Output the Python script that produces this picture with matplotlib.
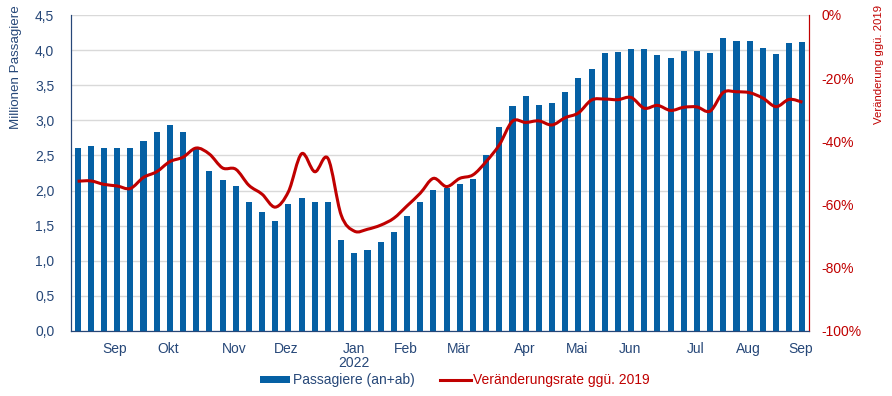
"""
Weekly passengers (arrivals + departures) with change vs. 2019.
"""

import matplotlib.pyplot as plt
import numpy as np
from matplotlib.path import Path
from matplotlib.patches import PathPatch, Patch
from matplotlib.lines import Line2D
from matplotlib.ticker import FuncFormatter, MultipleLocator

plt.rcParams['font.family'] = ['Liberation Sans', 'DejaVu Sans']

# Weekly passengers in millions (Aug 2021 - Sep 2022)
passengers = [2.60, 2.64, 2.60, 2.61, 2.61, 2.71, 2.83, 2.93, 2.84, 2.59,
              2.28, 2.15, 2.06, 1.84, 1.70, 1.57, 1.81, 1.90, 1.84, 1.84,
              1.30, 1.11, 1.16, 1.27, 1.41, 1.64, 1.84, 2.01, 2.03, 2.09,
              2.17, 2.50, 2.91, 3.20, 3.35, 3.22, 3.25, 3.41, 3.60, 3.73,
              3.96, 3.97, 4.01, 4.01, 3.93, 3.89, 3.99, 3.99, 3.96, 4.17,
              4.13, 4.13, 4.03, 3.94, 4.10, 4.11]

# Change vs. 2019 in percent
change_2019 = [-52.6, -52.5, -53.6, -54.1, -54.9, -51.4, -49.6, -46.4, -45.0, -42.1,
               -44.0, -48.4, -48.8, -53.9, -56.7, -60.8, -55.9, -43.9, -49.6, -45.4,
               -63.3, -68.4, -67.8, -66.5, -64.3, -60.4, -56.4, -51.7, -54.3, -51.7,
               -50.6, -46.4, -41.1, -33.6, -34.0, -33.5, -34.8, -32.5, -31.0, -26.9,
               -26.6, -26.8, -26.1, -29.5, -28.6, -30.2, -29.2, -29.1, -30.4, -24.5,
               -24.3, -24.6, -26.3, -29.0, -26.7, -27.6]

month_labels = ['Sep', 'Okt', 'Nov', 'Dez', 'Jan\n2022', 'Feb', 'Mär',
                'Apr', 'Mai', 'Jun', 'Jul', 'Aug', 'Sep']
month_pos = [2.8, 6.85, 11.85, 15.85, 20.95, 24.9, 28.9,
             33.9, 37.9, 41.9, 46.9, 50.9, 54.9]

BLUE = '#0560a4'
DARKBLUE = '#264778'
RED = '#c00000'


def smooth_path(x, y):
    """Catmull-Rom style bezier path, like a smoothed spreadsheet line."""
    pts = np.column_stack([x, y])
    n = len(pts)
    verts = [pts[0]]
    codes = [Path.MOVETO]
    for i in range(n - 1):
        p0 = pts[max(i - 1, 0)]
        p1 = pts[i]
        p2 = pts[i + 1]
        p3 = pts[min(i + 2, n - 1)]
        c1 = p1 + (p2 - p0) / 6.0
        c2 = p2 - (p3 - p1) / 6.0
        verts += [c1, c2, p2]
        codes += [Path.CURVE4] * 3
    return Path(verts, codes)


fig = plt.figure(figsize=(8.92, 3.96), dpi=100)
ax = fig.add_axes([71 / 892, 65 / 396, 738 / 892, 316 / 396])
ax2 = ax.twinx()

x = np.arange(len(passengers))
ax.bar(x, passengers, width=0.46, color=BLUE, zorder=2)
ax.set_xlim(-0.5, len(passengers) - 0.5)
ax.set_ylim(0, 4.5)
ax.yaxis.set_major_locator(MultipleLocator(0.5))
ax.yaxis.set_major_formatter(FuncFormatter(lambda v, p: f"{v:.1f}".replace('.', ',')))
ax.grid(True, axis='y', color='#d9d9d9', linewidth=1, zorder=0)
ax.set_axisbelow(True)
ax.set_xticks(month_pos)
ax.set_xticklabels(month_labels, fontsize=10, color=DARKBLUE, linespacing=1.0)
ax.tick_params(axis='x', length=0, pad=8)
ax.tick_params(axis='y', length=0, pad=12, labelsize=10, labelcolor=DARKBLUE)
ax.set_ylabel('Millionen Passagiere', fontsize=9.6, color=DARKBLUE, labelpad=9, loc='top')
ax.yaxis.label.set_y(1.032)

ax2.add_patch(PathPatch(smooth_path(x, change_2019), facecolor='none',
                        edgecolor=RED, linewidth=2.2, zorder=3))
ax2.set_ylim(-100, 0)
ax2.yaxis.set_major_locator(MultipleLocator(20))
ax2.yaxis.set_major_formatter(FuncFormatter(lambda v, p: f"{v:.0f}%"))
ax2.tick_params(axis='y', length=0, pad=9, labelsize=10, labelcolor=RED)
ax2.set_ylabel('Veränderung ggü. 2019', fontsize=8.2, color=RED, labelpad=9, loc='top')
ax2.yaxis.label.set_y(1.032)

for a in (ax, ax2):
    a.spines['top'].set_visible(False)
    a.spines['left'].set_color(DARKBLUE)
    a.spines['bottom'].set_color(DARKBLUE)
    a.spines['right'].set_color(RED)

handles = [Patch(facecolor=BLUE, edgecolor='none'),
           Line2D([], [], color=RED, linewidth=2.2)]
fig.legend(handles, ['Passagiere (an+ab)', 'Veränderungsrate ggü. 2019'],
           loc='lower center', bbox_to_anchor=(0.51, -0.01), ncol=2,
           frameon=False, fontsize=10, labelcolor=[DARKBLUE, RED],
           handlelength=2.2, handleheight=0.5, handletextpad=0.2, columnspacing=1.8)

plt.savefig('out.png', dpi=100)
